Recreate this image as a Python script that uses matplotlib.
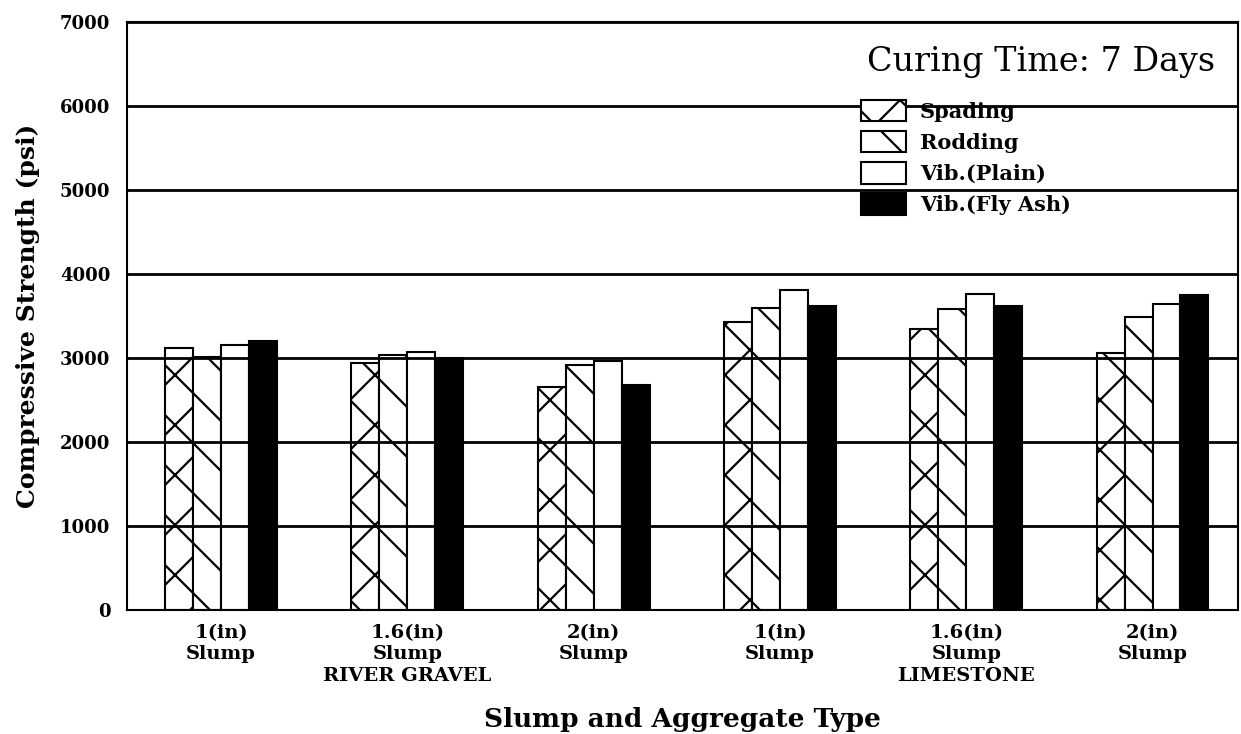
import numpy as np
import matplotlib
matplotlib.use("Agg")
import matplotlib.pyplot as plt
from matplotlib.backend_bases import GraphicsContextBase

# coarser hatch spacing like the scanned original
_orig_hatch = GraphicsContextBase.get_hatch_path
def _coarse_hatch(self, density=6.0):
    return _orig_hatch(self, 4)
GraphicsContextBase.get_hatch_path = _coarse_hatch

plt.rcParams['hatch.linewidth'] = 1.6
plt.rcParams['font.family'] = ['DejaVu Serif']

categories = ["1(in)\nSlump", "1.6(in)\nSlump\nRIVER GRAVEL", "2(in)\nSlump",
              "1(in)\nSlump", "1.6(in)\nSlump\nLIMESTONE", "2(in)\nSlump"]
series_names = ["Spading", "Rodding", "Vib.(Plain)", "Vib.(Fly Ash)"]
spading = [3120, 2940, 2650, 3430, 3340, 3060]
rodding = [3010, 3040, 2920, 3600, 3580, 3490]
plain = [3160, 3070, 2970, 3810, 3765, 3640]
flyash = [3200, 2995, 2680, 3625, 3620, 3750]
yticks = [0, 1000, 2000, 3000, 4000, 5000, 6000, 7000]

fig = plt.figure(figsize=(12.41, 7.34), dpi=100)
ax = fig.add_axes([0.1023, 0.1689, 0.8953, 0.8011])

x = np.arange(len(categories))
w = 0.15
styles = [dict(facecolor='white', hatch='x'),
          dict(facecolor='white', hatch='\\'),
          dict(facecolor='white', hatch=''),
          dict(facecolor='black', hatch='')]
for i, (vals, name, st) in enumerate(zip([spading, rodding, plain, flyash], series_names, styles)):
    ax.bar(x + (i - 1.5) * w, vals, w, label=name, edgecolor='black',
           linewidth=1.5, zorder=1, **st)

ax.set_xlim(-0.505, 5.459)
ax.set_ylim(0, 7000)
ax.set_yticks(yticks)
ax.set_yticklabels([str(t) for t in yticks], fontsize=13, fontweight='bold')
ax.set_xticks(x)
ax.set_xticklabels(categories, fontsize=14, fontweight='bold', linespacing=1.25)
ax.tick_params(axis='both', length=0)
ax.tick_params(axis='y', pad=12)
ax.tick_params(axis='x', pad=10)

ax.set_axisbelow(False)
ax.yaxis.grid(True, color='black', linewidth=2.0)
for s in ax.spines.values():
    s.set_linewidth(1.5)
    s.set_color('black')

ax.set_ylabel("Compressive Strength (psi)", fontsize=18, fontweight='bold', labelpad=14)
ax.set_xlabel("Slump and Aggregate Type", fontsize=19, fontweight='bold', labelpad=16)

fig.text(867 / 1241, 1 - 62 / 734, "Curing Time: 7 Days", fontsize=24,
         ha='left', va='center')

leg = fig.legend(loc='upper left', bbox_to_anchor=(861 / 1241, 1 - 100 / 734),
                 bbox_transform=fig.transFigure, frameon=False,
                 prop={'size': 15, 'weight': 'bold'}, handlelength=2.16,
                 handleheight=1.2, handletextpad=0.67, labelspacing=0.45,
                 borderpad=0, borderaxespad=0)

fig.savefig("out.png", dpi=100)
